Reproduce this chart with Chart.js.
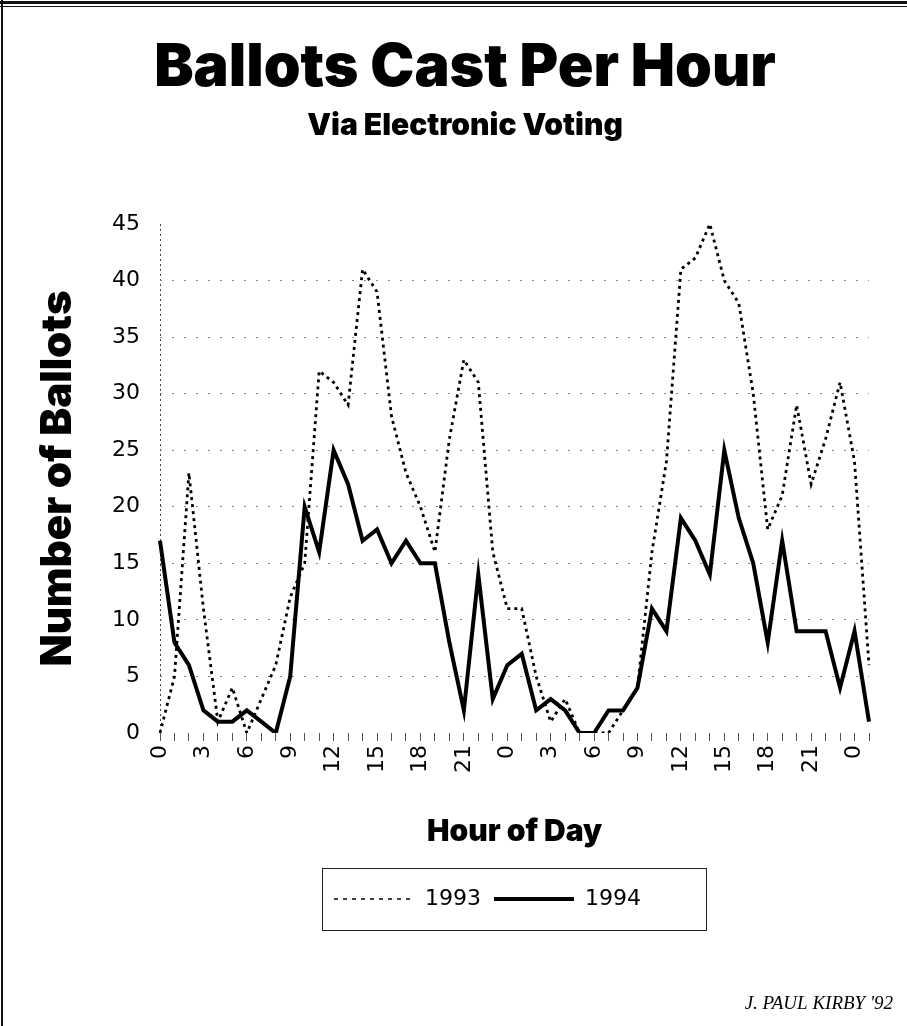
<!DOCTYPE html>
<html lang="en">
<head>
<meta charset="UTF-8">
<title>Ballots Cast Per Hour</title>
<style>
    * { margin: 0; padding: 0; box-sizing: border-box; }
    body { background: #fff; width: 907px; height: 1026px; overflow: hidden; }
    #ballotChart { display: block; }
</style>
</head>
<body>
<canvas id="ballotChart" width="907" height="1026"></canvas>

<script src="https://cdn.jsdelivr.net/npm/chart.js"></script>
<script>
    // hour of day for each reading: two whole days and the first two hours of a third
    const hours = [0, 1, 2, 3, 4, 5, 6, 7, 8, 9, 10, 11, 12, 13, 14, 15, 16, 17, 18, 19, 20, 21, 22, 23,
                   0, 1, 2, 3, 4, 5, 6, 7, 8, 9, 10, 11, 12, 13, 14, 15, 16, 17, 18, 19, 20, 21, 22, 23,
                   0, 1];
    // only every third hour gets a label
    const labelledHours = [0, 3, 6, 9, 12, 15, 18, 21];

    const ballots1993 = [0, 5, 23, 11, 1, 4, 0, 3, 6, 12,
                         15, 32, 31, 29, 41, 39, 28, 23, 20, 16,
                         26, 33, 31, 16, 11, 11, 5, 1, 3, 0,
                         0, 0, 2, 4, 16, 24, 41, 42, 45, 40,
                         38, 30, 18, 21, 29, 22, 26, 31, 24, 6];
    const ballots1994 = [17, 8, 6, 2, 1, 1, 2, 1, 0, 5,
                         20, 16, 25, 22, 17, 18, 15, 17, 15, 15,
                         8, 2, 14, 3, 6, 7, 2, 3, 2, 0,
                         0, 2, 2, 4, 11, 9, 19, 17, 14, 25,
                         19, 15, 8, 17, 9, 9, 9, 4, 9, 1];

    const titleText = 'Ballots Cast Per Hour';
    const subtitleText = 'Via Electronic Voting';
    const creditText = "J. PAUL KIRBY '92";

    const heavy = 'Inter, "Liberation Sans", Arial, sans-serif';
    const plain = '"DejaVu Sans", Verdana, sans-serif';

    // paper frame, boxed legend, credit line, and nudging the titles/legend
    const paperPlugin = {
        id: 'paper',
        afterLayout(chart) {
            const area = chart.chartArea;
            const lg = chart.legend;
            const dx = (area.left + area.right) / 2 - 27 - (lg.left + lg.right) / 2;
            lg.left += dx;
            lg.right += dx;
            chart.boxes.forEach(b => {
                if (b.options && (b.options.text === titleText || b.options.text === subtitleText)) {
                    const shift = 465 - (b.left + b.right) / 2;
                    b.left += shift;
                    b.right += shift;
                }
            });
        },
        beforeDraw(chart) {
            const ctx = chart.ctx;
            ctx.save();
            ctx.fillStyle = '#fff';
            ctx.fillRect(0, 0, chart.width, chart.height);
            ctx.fillStyle = '#111';
            ctx.fillRect(0, 1, chart.width, 3);
            ctx.fillRect(0, 6, chart.width, 1);
            ctx.fillRect(1, 0, 2, chart.height);
            ctx.restore();
        },
        afterDraw(chart) {
            const ctx = chart.ctx;
            const boxes = chart.legend.legendHitBoxes;
            if (boxes && boxes.length) {
                const first = boxes[0];
                const last = boxes[boxes.length - 1];
                ctx.save();
                ctx.strokeStyle = '#222';
                ctx.lineWidth = 1;
                ctx.strokeRect(Math.round(first.left - 12) + 0.5, Math.round(first.top - 20) + 0.5,
                               Math.round(last.left + last.width + 65 - first.left + 12),
                               Math.round(first.height + 40));
                ctx.restore();
            }
            ctx.save();
            ctx.fillStyle = '#000';
            ctx.font = 'italic 19px "Liberation Serif", "Times New Roman", serif';
            ctx.textAlign = 'right';
            ctx.textBaseline = 'alphabetic';
            ctx.fillText(creditText, 893, 1009);
            ctx.restore();
        }
    };

    const ctx = document.getElementById('ballotChart').getContext('2d');
    new Chart(ctx, {
        type: 'line',
        data: {
            labels: hours,
            datasets: [
                {
                    label: '1993',
                    data: ballots1993,
                    borderColor: '#000',
                    backgroundColor: '#000',
                    borderWidth: 2.8,
                    borderDash: [3, 4],
                    pointRadius: 0,
                    tension: 0,
                    fill: false
                },
                {
                    label: '1994',
                    data: ballots1994,
                    borderColor: '#000',
                    backgroundColor: '#000',
                    borderWidth: 4,
                    borderJoinStyle: 'miter',
                    pointRadius: 0,
                    tension: 0,
                    fill: false
                }
            ]
        },
        options: {
            responsive: false,
            animation: false,
            layout: { padding: { left: 10, right: 38, top: 0, bottom: 106 } },
            plugins: {
                title: {
                    display: true,
                    text: titleText,
                    color: '#000',
                    font: { family: heavy, size: 59, weight: 900 },
                    padding: { top: 33.2, bottom: 0 }
                },
                subtitle: {
                    display: true,
                    text: subtitleText,
                    color: '#000',
                    font: { family: heavy, size: 30, weight: 900 },
                    padding: { top: 4.2, bottom: 79.8 }
                },
                legend: {
                    position: 'bottom',
                    labels: {
                        usePointStyle: true,
                        pointStyleWidth: 80,
                        padding: 13,
                        color: '#000',
                        font: { family: plain, size: 22 },
                        generateLabels(chart) {
                            return chart.data.datasets.map((ds, i) => ({
                                text: ds.label,
                                datasetIndex: i,
                                pointStyle: 'line',
                                lineDash: i === 0 ? [4, 5] : [],
                                lineWidth: i === 0 ? 1.5 : ds.borderWidth,
                                lineCap: 'butt',
                                strokeStyle: ds.borderColor,
                                fillStyle: ds.borderColor,
                                fontColor: '#000',
                                hidden: false
                            }));
                        }
                    }
                },
                tooltip: { enabled: false }
            },
            scales: {
                x: {
                    offset: false,
                    afterFit(scale) { scale.height = 142; },
                    grid: {
                        drawOnChartArea: true,
                        drawTicks: true,
                        tickLength: 8,
                        tickColor: '#555',
                        lineWidth: 1,
                        // only the first line shows: the dotted y axis
                        color: c => c.index === 0 ? '#444' : 'rgba(0,0,0,0)'
                    },
                    border: { display: false, dash: [2, 3] },
                    ticks: {
                        autoSkip: false,
                        maxRotation: 90,
                        minRotation: 90,
                        padding: 4,
                        color: '#000',
                        font: { family: plain, size: 22 },
                        callback: (v, i) => labelledHours.includes(hours[i]) ? String(hours[i]) : ''
                    },
                    title: {
                        display: true,
                        text: 'Hour of Day',
                        color: '#000',
                        font: { family: heavy, size: 30, weight: 900 },
                        padding: { top: 0, bottom: 25 }
                    }
                },
                y: {
                    min: 0,
                    max: 45,
                    afterFit(scale) { scale.width = 150; },
                    grid: {
                        drawTicks: false,
                        lineWidth: 1,
                        color: c => (c.tick.value === 0 || c.tick.value === 45) ? 'rgba(0,0,0,0)' : '#888'
                    },
                    border: { display: false, dash: [2, 10] },
                    ticks: {
                        stepSize: 5,
                        padding: 20,
                        color: '#000',
                        font: { family: plain, size: 22 }
                    },
                    title: {
                        display: true,
                        text: 'Number of Ballots',
                        color: '#000',
                        font: { family: heavy, size: 42, weight: 900 },
                        padding: { top: 22.8, bottom: 0 }
                    }
                }
            }
        },
        plugins: [paperPlugin]
    });
</script>
</body>
</html>
